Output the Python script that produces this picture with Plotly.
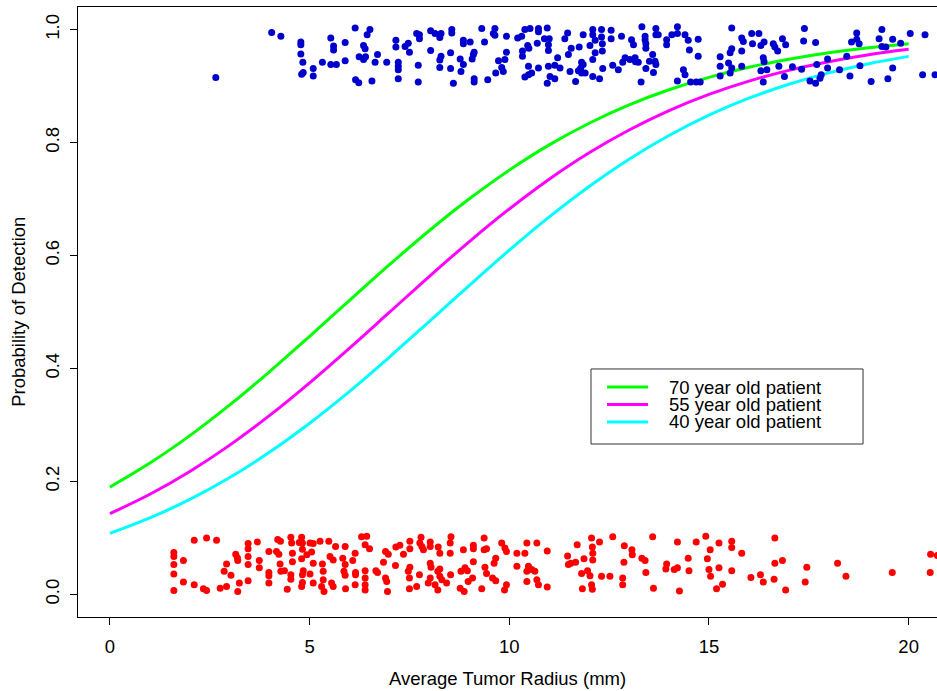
import plotly.graph_objects as go

# ---- data ----
radius_grid = list(range(0, 21))
p_age70 = [0.190, 0.2325, 0.2811, 0.3355, 0.3946, 0.4570, 0.5207, 0.5838, 0.6443, 0.7004, 0.7512,
           0.7959, 0.8342, 0.8667, 0.8935, 0.9155, 0.9333, 0.9475, 0.9589, 0.9679, 0.9749]
p_age55 = [0.1431, 0.1773, 0.2177, 0.2643, 0.3169, 0.3746, 0.4361, 0.4996, 0.5632, 0.6247, 0.6824,
           0.7351, 0.7818, 0.8222, 0.8566, 0.8852, 0.9088, 0.9278, 0.9431, 0.9554, 0.9651]
p_age40 = [0.1081, 0.1354, 0.1681, 0.2069, 0.2520, 0.3031, 0.3596, 0.4203, 0.4835, 0.5472, 0.6094,
           0.6683, 0.7223, 0.7706, 0.8126, 0.8485, 0.8785, 0.9033, 0.9234, 0.9396, 0.9526]

curve_labels = ["70 year old patient", "55 year old patient", "40 year old patient"]
curve_colors = ["#00FF00", "#FF00FF", "#00FFFF"]

detected_points = [
    (2.65, 0.915), (4.05, 0.995), (4.28, 0.988), (4.78, 0.978), (4.78, 0.973), (4.78, 0.957), (4.83, 0.942),
    (4.80, 0.921), (4.84, 0.924), (5.09, 0.931), (5.09, 0.918), (5.32, 0.942), (5.53, 0.985), (5.53, 0.938),
    (5.60, 0.971), (5.60, 0.964), (5.67, 0.938), (5.89, 0.977), (5.89, 0.945), (6.14, 1.003), (6.51, 1.000),
    (6.44, 0.991), (6.35, 0.972), (6.39, 0.966), (6.24, 0.952), (6.35, 0.947), (6.40, 0.952), (6.70, 0.956),
    (6.64, 0.942), (6.15, 0.911), (6.23, 0.906), (6.56, 0.909),
    (6.93, 0.942), (7.16, 0.981), (7.16, 0.969), (7.22, 0.942), (7.22, 0.935), (7.22, 0.929), (7.22, 0.913),
    (7.68, 0.993), (7.75, 0.991), (7.75, 0.984), (7.72, 0.937), (7.72, 0.907), (8.03, 0.998), (8.14, 0.993),
    (8.29, 0.993), (8.26, 0.986), (8.03, 0.963), (7.47, 0.976), (7.39, 0.970), (7.50, 0.960), (8.29, 0.953),
    (8.26, 0.946), (8.26, 0.933), (8.56, 1.000), (8.56, 0.994), (8.53, 0.959), (8.53, 0.931), (8.60, 0.905),
    (8.77, 0.948), (8.85, 0.938), (8.79, 0.926), (8.85, 0.981), (8.85, 0.975), (9.02, 0.978), (9.12, 0.960),
    (9.10, 0.956), (9.07, 0.948), (9.12, 0.913), (9.12, 0.907), (9.31, 1.002), (9.38, 0.978), (9.46, 0.911),
    (9.64, 1.002), (9.60, 0.993), (9.64, 0.990), (9.93, 0.988), (9.93, 0.960), (9.73, 0.945), (9.89, 0.947),
    (9.81, 0.933), (9.85, 0.926), (9.66, 0.923), (10.21, 0.985), (10.31, 0.988), (10.39, 1.000), (10.52, 1.002),
    (10.73, 1.002), (10.73, 0.996), (10.95, 1.003), (10.88, 0.984), (11.00, 0.984), (10.70, 0.976),
    (10.46, 0.972), (10.49, 0.967), (10.33, 0.962), (10.33, 0.953), (10.98, 0.973), (10.98, 0.963),
    (10.48, 0.935), (10.56, 0.923), (10.48, 0.920), (10.39, 0.916), (10.73, 0.932), (10.98, 0.935),
    (11.02, 0.917), (10.95, 0.905), (11.14, 0.913), (11.14, 0.937), (11.27, 0.932), (11.21, 0.950),
    (11.46, 0.994), (11.39, 0.984), (11.55, 0.967), (11.48, 0.956), (11.52, 0.926),
    (11.85, 0.991), (12.09, 1.000), (12.09, 0.991), (12.31, 1.000), (12.31, 0.987), (12.33, 0.975),
    (12.33, 0.962), (12.55, 0.999), (12.55, 0.984), (12.81, 0.988), (12.02, 0.972), (12.15, 0.981),
    (11.75, 0.969), (11.81, 0.942), (11.85, 0.938), (11.79, 0.932), (11.73, 0.927), (11.81, 0.923),
    (11.90, 0.923), (12.09, 0.947), (12.15, 0.959), (12.09, 0.917), (12.26, 0.913), (11.66, 0.908),
    (12.34, 0.931), (12.59, 0.937), (12.73, 0.929), (12.84, 0.942), (12.90, 0.950), (13.02, 0.947),
    (13.15, 0.950), (13.16, 0.943), (13.23, 0.942), (13.06, 0.982), (13.11, 0.973), (13.32, 1.005),
    (13.40, 0.988), (13.40, 0.982), (13.42, 0.975), (13.42, 0.967), (13.67, 1.002), (13.67, 0.991),
    (13.73, 0.991), (13.59, 0.956), (13.51, 0.944), (13.65, 0.944), (13.67, 0.938), (13.42, 0.931),
    (13.61, 0.924), (13.30, 0.907), (13.94, 0.982), (13.94, 0.973), (14.07, 0.991), (14.21, 0.993),
    (14.21, 1.005), (14.40, 0.991), (14.48, 0.981), (14.51, 0.964), (14.73, 0.983), (14.73, 0.953),
    (14.36, 0.929), (14.40, 0.920), (14.21, 0.909), (14.54, 0.907), (14.68, 0.907), (14.78, 0.907),
    (15.57, 1.003), (15.82, 0.985), (15.86, 0.979), (15.57, 0.966), (15.53, 0.959), (15.82, 0.962),
    (15.49, 0.941), (15.28, 0.952), (15.28, 0.935), (15.57, 0.932), (15.53, 0.923), (15.28, 0.918),
    (15.82, 0.935), (16.07, 0.993), (16.09, 0.975),
    (16.25, 0.993), (16.30, 0.972), (16.38, 0.978), (16.61, 0.975), (16.65, 0.969), (16.72, 0.962),
    (16.84, 0.984), (16.92, 0.973), (17.39, 1.002), (17.37, 0.980), (17.67, 0.977), (16.36, 0.950),
    (16.38, 0.943), (16.30, 0.927), (16.45, 0.929), (16.36, 0.907), (16.75, 0.935), (16.89, 0.917),
    (17.09, 0.934), (17.32, 0.930), (17.70, 0.938), (17.97, 0.948), (17.97, 0.932), (18.27, 0.929),
    (17.81, 0.920), (17.78, 0.914), (17.53, 0.909), (17.67, 0.905), (18.45, 0.953), (18.78, 0.936),
    (18.53, 0.918), (18.70, 0.994), (18.70, 0.983), (18.57, 0.978), (18.76, 0.975), (19.06, 0.908),
    (19.33, 1.000), (19.26, 0.984), (19.33, 0.970), (19.43, 0.969), (19.60, 0.983), (19.80, 0.976),
    (19.60, 0.932), (19.48, 0.913), (20.04, 0.993), (20.41, 0.991), (20.35, 0.920), (20.66, 0.920),
]

missed_points = [
    (2.11, 0.096), (2.42, 0.100), (2.67, 0.096), (1.60, 0.074), (1.60, 0.067), (1.60, 0.053), (1.60, 0.036),
    (1.60, 0.007), (1.84, 0.060), (1.84, 0.022), (2.11, 0.017), (2.34, 0.010), (2.42, 0.007), (2.76, 0.011),
    (2.92, 0.014), (2.86, 0.041), (2.92, 0.054), (3.03, 0.034), (3.15, 0.071), (3.19, 0.065), (3.20, 0.060),
    (3.24, 0.020), (3.20, 0.005), (3.46, 0.090), (3.46, 0.081), (3.46, 0.067), (3.46, 0.053), (3.46, 0.024),
    (3.69, 0.093), (3.74, 0.060), (3.74, 0.047), (3.98, 0.076), (3.98, 0.039), (3.98, 0.033), (3.98, 0.020),
    (4.20, 0.097), (4.27, 0.094), (4.17, 0.076), (4.23, 0.071), (4.26, 0.054), (4.28, 0.041), (4.37, 0.042),
    (4.44, 0.009), (4.53, 0.101), (4.55, 0.091), (4.57, 0.073), (4.57, 0.058), (4.53, 0.035), (4.53, 0.027),
    (4.74, 0.092), (4.80, 0.101), (4.82, 0.091), (4.82, 0.080), (4.80, 0.063), (4.93, 0.070), (4.84, 0.042),
    (4.82, 0.035), (4.82, 0.021), (4.80, 0.014), (5.01, 0.091), (5.09, 0.090), (5.05, 0.075), (5.09, 0.055),
    (5.01, 0.036), (5.09, 0.020), (5.26, 0.094), (5.32, 0.054), (5.34, 0.041), (5.34, 0.026), (5.30, 0.014),
    (5.36, 0.005), (5.48, 0.094), (5.51, 0.067), (5.59, 0.061), (5.65, 0.085), (5.55, 0.020), (5.59, 0.014),
    (5.89, 0.085), (5.83, 0.064), (5.89, 0.053), (5.86, 0.041), (5.89, 0.034), (5.90, 0.010),
    (6.30, 0.102), (6.43, 0.103), (6.39, 0.088), (6.50, 0.081), (6.14, 0.073), (6.08, 0.060), (6.15, 0.039),
    (6.15, 0.035), (6.14, 0.017), (6.39, 0.042), (6.39, 0.029), (6.39, 0.017), (6.39, 0.008), (6.66, 0.042),
    (6.70, 0.039), (6.90, 0.076), (6.97, 0.071), (6.85, 0.057), (6.90, 0.029), (6.93, 0.023), (6.95, 0.005),
    (7.15, 0.051), (7.16, 0.084), (7.26, 0.087), (7.35, 0.071), (7.51, 0.094), (7.51, 0.081), (7.51, 0.048),
    (7.47, 0.041), (7.50, 0.029), (7.50, 0.010), (7.68, 0.014), (7.75, 0.035), (7.79, 0.101), (7.76, 0.091),
    (7.85, 0.079), (7.81, 0.085), (8.02, 0.093), (8.02, 0.085), (8.02, 0.055), (8.04, 0.048), (8.02, 0.029),
    (7.97, 0.020), (8.14, 0.017), (8.21, 0.041), (8.26, 0.045), (8.21, 0.008), (8.22, 0.084), (8.26, 0.073),
    (8.52, 0.091), (8.52, 0.073), (8.54, 0.102), (8.26, 0.032), (8.31, 0.026), (8.43, 0.020), (8.53, 0.035),
    (8.79, 0.041), (8.89, 0.047), (8.95, 0.042), (8.85, 0.079), (8.77, 0.011), (8.87, 0.005), (9.10, 0.087),
    (9.10, 0.081), (9.10, 0.058), (8.97, 0.023), (9.08, 0.029), (9.31, 0.010), (9.37, 0.100), (9.37, 0.079),
    (9.43, 0.081), (9.39, 0.048), (9.43, 0.037), (9.66, 0.064), (9.62, 0.055), (9.58, 0.029), (9.66, 0.024),
    (9.81, 0.091), (9.89, 0.082), (9.93, 0.076), (9.88, 0.008), (9.93, 0.017), (10.19, 0.073), (10.19, 0.050),
    (10.39, 0.073), (10.44, 0.091), (10.44, 0.041), (10.48, 0.050), (10.56, 0.044), (10.44, 0.023),
    (10.64, 0.041), (10.69, 0.091), (10.69, 0.026), (10.73, 0.017),
    (10.95, 0.077), (10.95, 0.013), (11.46, 0.068), (11.48, 0.053), (11.54, 0.055), (11.66, 0.057),
    (11.70, 0.088), (11.87, 0.063), (11.81, 0.037), (11.96, 0.042), (12.02, 0.033), (12.06, 0.100),
    (12.08, 0.084), (12.09, 0.073), (12.09, 0.061), (12.06, 0.017), (12.08, 0.009), (12.26, 0.093),
    (11.83, 0.010), (12.31, 0.032), (12.52, 0.032), (12.59, 0.102), (12.84, 0.029), (12.84, 0.017),
    (12.87, 0.057), (12.88, 0.086), (13.07, 0.079), (13.08, 0.070), (13.32, 0.064), (13.40, 0.060),
    (13.42, 0.039), (13.59, 0.102), (13.61, 0.011), (13.94, 0.054), (13.92, 0.045), (14.13, 0.044),
    (14.21, 0.047), (14.26, 0.006), (14.21, 0.093), (14.48, 0.064), (14.50, 0.042), (14.68, 0.093),
    (14.92, 0.103), (15.03, 0.079), (14.96, 0.063), (15.25, 0.091), (15.00, 0.044), (15.04, 0.032),
    (15.25, 0.047), (15.19, 0.010), (15.34, 0.018),
    (15.57, 0.094), (15.57, 0.083), (15.57, 0.042), (15.82, 0.073), (16.05, 0.030), (16.29, 0.035),
    (16.36, 0.022), (16.65, 0.100), (16.65, 0.055), (16.84, 0.060), (16.63, 0.027), (16.92, 0.008),
    (17.45, 0.048), (17.41, 0.022), (18.22, 0.055), (18.43, 0.032), (19.59, 0.039), (20.55, 0.071),
    (20.54, 0.039), (20.72, 0.069),
]

x_ticks = [0, 5, 10, 15, 20]
y_ticks = [0.0, 0.2, 0.4, 0.6, 0.8, 1.0]
y_tick_text = ["0.0", "0.2", "0.4", "0.6", "0.8", "1.0"]
x_title = "Average Tumor Radius (mm)"
y_title = "Probability of Detection"

FONT = "Liberation Sans, Arial, Helvetica, sans-serif"
FS = 18.5

fig = go.Figure()
for vals, col, lab in zip([p_age70, p_age55, p_age40], curve_colors, curve_labels):
    fig.add_trace(go.Scatter(x=radius_grid, y=vals, mode="lines", name=lab,
                             line=dict(color=col, width=3, shape="spline"), hoverinfo="skip"))

fig.add_trace(go.Scatter(x=[p[0] for p in detected_points], y=[p[1] for p in detected_points],
                         mode="markers", marker=dict(color="#0000CD", size=7), name="detected"))
fig.add_trace(go.Scatter(x=[p[0] for p in missed_points], y=[p[1] for p in missed_points],
                         mode="markers", marker=dict(color="#FF0000", size=7), name="missed"))

axis_common = dict(showline=True, linecolor="black", linewidth=1, ticks="outside", ticklen=7,
                   tickcolor="black", tickwidth=1, showgrid=False, zeroline=False,
                   tickfont=dict(family=FONT, size=FS, color="black"))

fig.update_layout(
    width=937, height=691,
    margin=dict(l=78, r=0, t=7, b=74),
    paper_bgcolor="white", plot_bgcolor="white",
    showlegend=False,
    xaxis=dict(range=[-0.80, 20.71], tickvals=x_ticks, mirror=True, ticklabelstandoff=6, **axis_common),
    yaxis=dict(range=[-0.04, 1.04], tickvals=y_ticks, ticktext=y_tick_text, tickangle=-90,
               ticklabelstandoff=4, **axis_common),
)

# axis titles
fig.add_annotation(text=x_title, xref="paper", yref="paper", x=0.5, y=-0.10, showarrow=False,
                   xanchor="center", yanchor="middle", font=dict(family=FONT, size=FS, color="black"))
fig.add_annotation(text=y_title, xref="paper", yref="paper", x=-0.070, y=0.5, showarrow=False,
                   textangle=-90, xanchor="center", yanchor="middle",
                   font=dict(family=FONT, size=FS, color="black"))

# legend box drawn manually (R-style)
leg_x0, leg_x1, leg_y0, leg_y1 = 0.5972, 0.9139, 0.2836, 0.4066
fig.add_shape(type="rect", xref="paper", yref="paper", x0=leg_x0, x1=leg_x1, y0=leg_y0, y1=leg_y1,
              line=dict(color="#333333", width=1), fillcolor="white", layer="above")
row_y = [0.3770, 0.3484, 0.3197]
for ry, col, lab in zip(row_y, curve_colors, curve_labels):
    fig.add_shape(type="line", xref="paper", yref="paper", x0=0.6159, x1=0.6636, y0=ry, y1=ry,
                  line=dict(color=col, width=3), layer="above")
    fig.add_annotation(text=lab, xref="paper", yref="paper", x=0.6857, y=ry, showarrow=False,
                       xanchor="left", yanchor="middle", font=dict(family=FONT, size=FS, color="black"))

fig.write_html("out.html")
